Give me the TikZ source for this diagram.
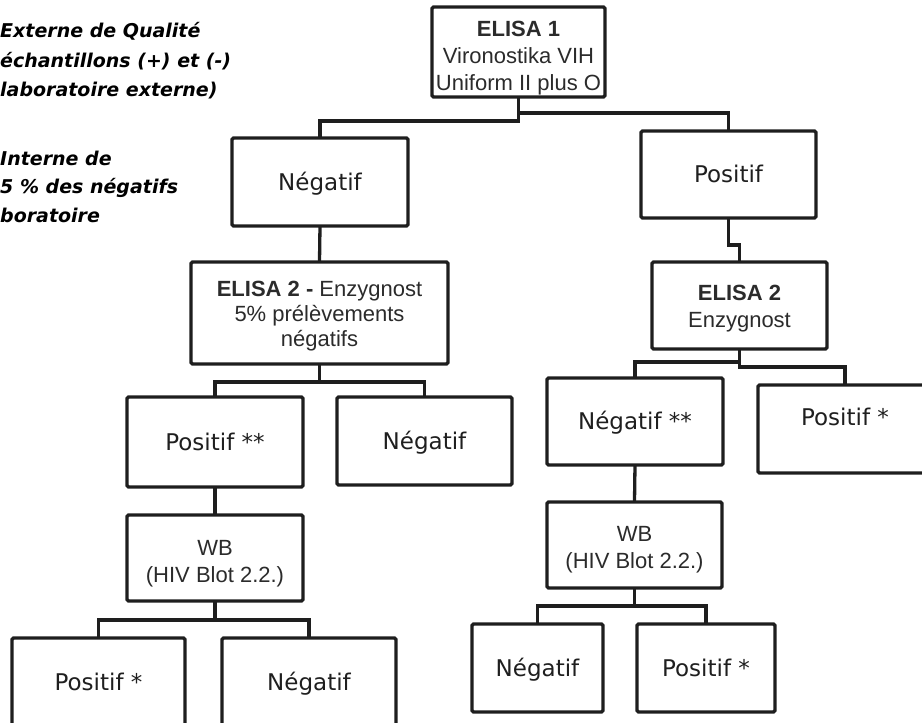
\documentclass[tikz,border=0pt]{standalone}
\usepackage{fontspec}
\setmainfont{Liberation Sans}
\newfontfamily\comic{DejaVu Sans}
\definecolor{ink}{HTML}{1E1E1E}
\definecolor{txt}{HTML}{2B2B2B}
\definecolor{ctxt}{HTML}{1F1F1F}
\begin{document}
\begin{tikzpicture}[x=1pt,y=-1pt,
  box/.style={draw=ink,line width=3.3pt,rounded corners=1.5pt,fill=white,inner sep=0pt,outer sep=0pt},
  cfont/.style={font=\comic\fontsize{23}{27}\selectfont,text=ctxt,text height=16.8pt,text depth=0pt},
  cbox/.style={box,cfont},
  atext/.style={align=center,inner sep=0pt,text=txt,font=\fontsize{22}{27}\selectfont},
  link/.style={draw=ink,line width=3.3pt},
  note/.style={anchor=base west,inner sep=0pt,text=black,font=\comic\bfseries\itshape\fontsize{19}{22}\selectfont}
]
\useasboundingbox (0,0) rectangle (922,723);
\clip (0,0) rectangle (922,723);

% side notes
\node[note] (n1) at (0,37) {Externe de Qualité};
\node[note] (n2) at (0,67) {échantillons (+) et (-)};
\node[note] (n3) at (0,96) {laboratoire externe)};
\node[note] (n4) at (0,165) {Interne de};
\node[note] (n5) at (0,193) {5 \% des négatifs};
\node[note] (n6) at (0,222) {boratoire};

% boxes
\node[box,minimum width=173pt,minimum height=90pt,
  label={[atext,yshift=-6pt]center:{\textbf{ELISA 1}\\Vironostika VIH\\Uniform II plus O}}] (e1) at (518.5,52) {};
\node[cbox,minimum width=176pt,minimum height=88pt] (neg1) at (320,182) {Négatif};
\node[cbox,minimum width=175pt,minimum height=87pt] (pos1) at (728.5,174.5) {Positif};
\node[box,minimum width=257pt,minimum height=102pt,
  label={[atext,font=\fontsize{22}{25}\selectfont,yshift=-3pt]center:{\textbf{ELISA 2 -} Enzygnost\\5\% prélèvements\\négatifs}}] (e2l) at (319.5,313) {};
\node[box,minimum width=175pt,minimum height=87pt,
  label={[atext,yshift=-3pt]center:{\textbf{ELISA 2}\\Enzygnost}}] (e2r) at (739.5,305.5) {};
\node[cbox,minimum width=176pt,minimum height=90pt] (posL2) at (215,442) {Positif **};
\node[cbox,minimum width=175pt,minimum height=88pt] (negL2) at (424.5,441) {Négatif};
\node[cbox,minimum width=176pt,minimum height=87pt] (negR2) at (635,421.5) {Négatif **};
\node[box,minimum width=174pt,minimum height=88pt,
  label={[cfont,inner sep=0pt,yshift=12pt]center:Positif *}] (posR2) at (845,429) {};
\node[box,minimum width=176pt,minimum height=86pt,
  label={[atext,yshift=-6pt]center:{WB\\(HIV Blot 2.2.)}}] (wbL) at (215,558) {};
\node[box,minimum width=175pt,minimum height=86pt,
  label={[atext,yshift=-5pt]center:{WB\\(HIV Blot 2.2.)}}] (wbR) at (634.5,545) {};
\node[cbox,minimum width=173pt,minimum height=88pt] (posL3) at (98.5,682) {Positif *};
\node[cbox,minimum width=174pt,minimum height=88pt] (negL3) at (309,682) {Négatif};
\node[cbox,minimum width=131pt,minimum height=88pt] (negR3) at (537.5,668) {Négatif};
\node[cbox,minimum width=138pt,minimum height=88pt] (posR3) at (706,668) {Positif *};

% connectors
\draw[link] (e1.south) -- ++(0,24) -| (neg1.north);
\draw[link] (e1.south) -- ++(0,16) -| (pos1.north);
\draw[link] (pos1.south) -- ++(0,27) -| (e2r.north);
\draw[link] (neg1.south) -- (e2l.north);
\draw[link] (e2l.south) -- ++(0,18) -| (posL2.north);
\draw[link] (e2l.south) -- ++(0,18) -| (negL2.north);
\draw[link] (e2r.south) -- ++(0,13) -| (negR2.north);
\draw[link] (e2r.south) -- ++(0,18) -| (posR2.north);
\draw[link] (posL2.south) -- (wbL.north);
\draw[link] (negR2.south) -- (wbR.north);
\draw[link] (wbL.south) -- ++(0,19) -| (posL3.north);
\draw[link] (wbL.south) -- ++(0,19) -| (negL3.north);
\draw[link] (wbR.south) -- ++(0,18) -| (negR3.north);
\draw[link] (wbR.south) -- ++(0,18) -| (posR3.north);
\end{tikzpicture}
\end{document}
